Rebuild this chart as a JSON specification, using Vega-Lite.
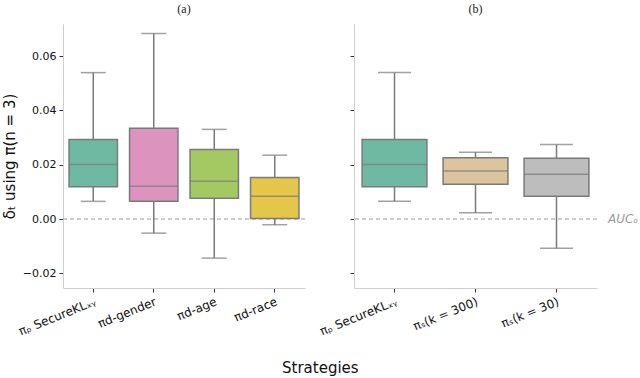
{
  "$schema": "https://vega.github.io/schema/vega-lite/v6.json",
  "background": "white",
  "padding": {"left": 2, "top": 3, "right": 0, "bottom": 1},
  "config": {
    "view": {"stroke": null},
    "font": "DejaVu Sans",
    "axis": {"grid": false, "domainColor": "#cfcfcf", "domainWidth": 1, "tickColor": "#333333", "tickSize": 4, "labelFont": "DejaVu Sans", "labelFontSize": 11, "labelColor": "#111111", "titleFont": "DejaVu Sans", "titleFontWeight": "normal", "titleColor": "#111111"},
    "title": {"font": "Liberation Serif", "fontSize": 12, "fontWeight": "normal", "color": "#222222"},
    "concat": {"spacing": 11}
  },
  "datasets": {
    "a": [
      {"strategy": "πₚ SecureKLₓᵧ", "lo": 0.0065, "q1": 0.0119, "med": 0.0201, "q3": 0.0293, "hi": 0.0539},
      {"strategy": "πd-gender", "lo": -0.0052, "q1": 0.0065, "med": 0.0121, "q3": 0.0334, "hi": 0.0683},
      {"strategy": "πd-age", "lo": -0.0144, "q1": 0.0076, "med": 0.0139, "q3": 0.0256, "hi": 0.0330},
      {"strategy": "πd-race", "lo": -0.0021, "q1": 0.0002, "med": 0.0084, "q3": 0.0153, "hi": 0.0235}
    ],
    "b": [
      {"strategy": "πₚ SecureKLₓᵧ ", "lo": 0.0065, "q1": 0.0119, "med": 0.0201, "q3": 0.0293, "hi": 0.0539},
      {"strategy": "πₛ(k = 300)", "lo": 0.0023, "q1": 0.0128, "med": 0.0177, "q3": 0.0226, "hi": 0.0246},
      {"strategy": "πₛ(k = 30)", "lo": -0.0108, "q1": 0.0084, "med": 0.0165, "q3": 0.0224, "hi": 0.0274}
    ],
    "zero": [{"y": 0, "label": "AUCₒ"}]
  },
  "title": {"text": "Strategies", "orient": "bottom", "anchor": "middle", "font": "DejaVu Sans", "fontSize": 15, "color": "#111111", "offset": 24},
  "hconcat": [
    {
      "width": 242,
      "height": 264,
      "title": {"text": "(a)", "offset": 8},
      "layer": [
        {
          "data": {"name": "zero"},
          "mark": {"type": "rule", "color": "#999999", "strokeDash": [4, 3], "strokeWidth": 1.2},
          "encoding": {"y": {"field": "y", "type": "quantitative", "scale": {"domain": [-0.0254, 0.0718], "nice": false}}}
        },
        {
          "data": {"name": "a"},
          "layer": [
            {
              "mark": {"type": "rule", "color": "#7a7a7a", "strokeWidth": 1.5},
              "encoding": {"y": {"field": "lo", "type": "quantitative"}, "y2": {"field": "hi"}}
            },
            {
              "mark": {"type": "bar", "stroke": "#7a7a7a", "strokeWidth": 1.5, "width": {"band": 0.8}},
              "encoding": {
                "y": {"field": "q1", "type": "quantitative"},
                "y2": {"field": "q3"},
                "color": {"field": "strategy", "type": "nominal", "legend": null,
                  "scale": {"domain": ["πₚ SecureKLₓᵧ", "πd-gender", "πd-age", "πd-race", "πₚ SecureKLₓᵧ ", "πₛ(k = 300)", "πₛ(k = 30)"],
                            "range": ["#6fb8a1", "#dc94bf", "#a4c862", "#e4c74a", "#6fb8a1", "#dcc59e", "#bdbdbd"]}}
              }
            },
            {
              "mark": {"type": "tick", "color": "#7a7a7a", "thickness": 1.5, "size": 48, "orient": "horizontal"},
              "encoding": {"y": {"field": "med", "type": "quantitative"}}
            },
            {
              "mark": {"type": "tick", "color": "#7a7a7a", "thickness": 1.5, "size": 25, "orient": "horizontal"},
              "encoding": {"y": {"field": "lo", "type": "quantitative"}}
            },
            {
              "mark": {"type": "tick", "color": "#7a7a7a", "thickness": 1.5, "size": 25, "orient": "horizontal"},
              "encoding": {"y": {"field": "hi", "type": "quantitative"}}
            }
          ],
          "encoding": {
            "x": {"field": "strategy", "type": "nominal", "sort": null, "scale": {"paddingInner": 0, "paddingOuter": 0},
              "axis": {"title": null, "labelAngle": -22, "labelAlign": "right", "labelBaseline": "top", "labelFontSize": 12, "labelPadding": 4}}
          }
        }
      ],
      "encoding": {
        "y": {"type": "quantitative",
          "axis": {"title": "δₜ using π(n = 3)", "titleFontSize": 15, "values": [-0.02, 0, 0.02, 0.04, 0.06], "format": ".2f", "labelPadding": 3, "titlePadding": 5}}
      }
    },
    {
      "width": 243,
      "height": 264,
      "title": {"text": "(b)", "offset": 8},
      "layer": [
        {
          "data": {"name": "zero"},
          "mark": {"type": "rule", "color": "#999999", "strokeDash": [4, 3], "strokeWidth": 1.2},
          "encoding": {"y": {"field": "y", "type": "quantitative", "scale": {"domain": [-0.0254, 0.0718], "nice": false}}}
        },
        {
          "data": {"name": "zero"},
          "mark": {"type": "text", "align": "left", "baseline": "middle", "dx": 254, "font": "DejaVu Sans", "fontStyle": "italic", "fontSize": 12, "color": "#999999"},
          "encoding": {"y": {"field": "y", "type": "quantitative"}, "text": {"field": "label"}, "x": {"value": 0}}
        },
        {
          "data": {"name": "b"},
          "layer": [
            {
              "mark": {"type": "rule", "color": "#7a7a7a", "strokeWidth": 1.5},
              "encoding": {"y": {"field": "lo", "type": "quantitative"}, "y2": {"field": "hi"}}
            },
            {
              "mark": {"type": "bar", "stroke": "#7a7a7a", "strokeWidth": 1.5, "width": {"band": 0.8}},
              "encoding": {
                "y": {"field": "q1", "type": "quantitative"},
                "y2": {"field": "q3"},
                "color": {"field": "strategy", "type": "nominal", "legend": null,
                  "scale": {"domain": ["πₚ SecureKLₓᵧ", "πd-gender", "πd-age", "πd-race", "πₚ SecureKLₓᵧ ", "πₛ(k = 300)", "πₛ(k = 30)"],
                            "range": ["#6fb8a1", "#dc94bf", "#a4c862", "#e4c74a", "#6fb8a1", "#dcc59e", "#bdbdbd"]}}
              }
            },
            {
              "mark": {"type": "tick", "color": "#7a7a7a", "thickness": 1.5, "size": 64, "orient": "horizontal"},
              "encoding": {"y": {"field": "med", "type": "quantitative"}}
            },
            {
              "mark": {"type": "tick", "color": "#7a7a7a", "thickness": 1.5, "size": 33, "orient": "horizontal"},
              "encoding": {"y": {"field": "lo", "type": "quantitative"}}
            },
            {
              "mark": {"type": "tick", "color": "#7a7a7a", "thickness": 1.5, "size": 33, "orient": "horizontal"},
              "encoding": {"y": {"field": "hi", "type": "quantitative"}}
            }
          ],
          "encoding": {
            "x": {"field": "strategy", "type": "nominal", "sort": null, "scale": {"paddingInner": 0, "paddingOuter": 0},
              "axis": {"title": null, "labelAngle": -22, "labelAlign": "right", "labelBaseline": "top", "labelFontSize": 12, "labelPadding": 4}}
          }
        }
      ],
      "encoding": {
        "y": {"type": "quantitative",
          "axis": {"title": null, "values": [-0.02, 0, 0.02, 0.04, 0.06], "labels": false}}
      }
    }
  ]
}
